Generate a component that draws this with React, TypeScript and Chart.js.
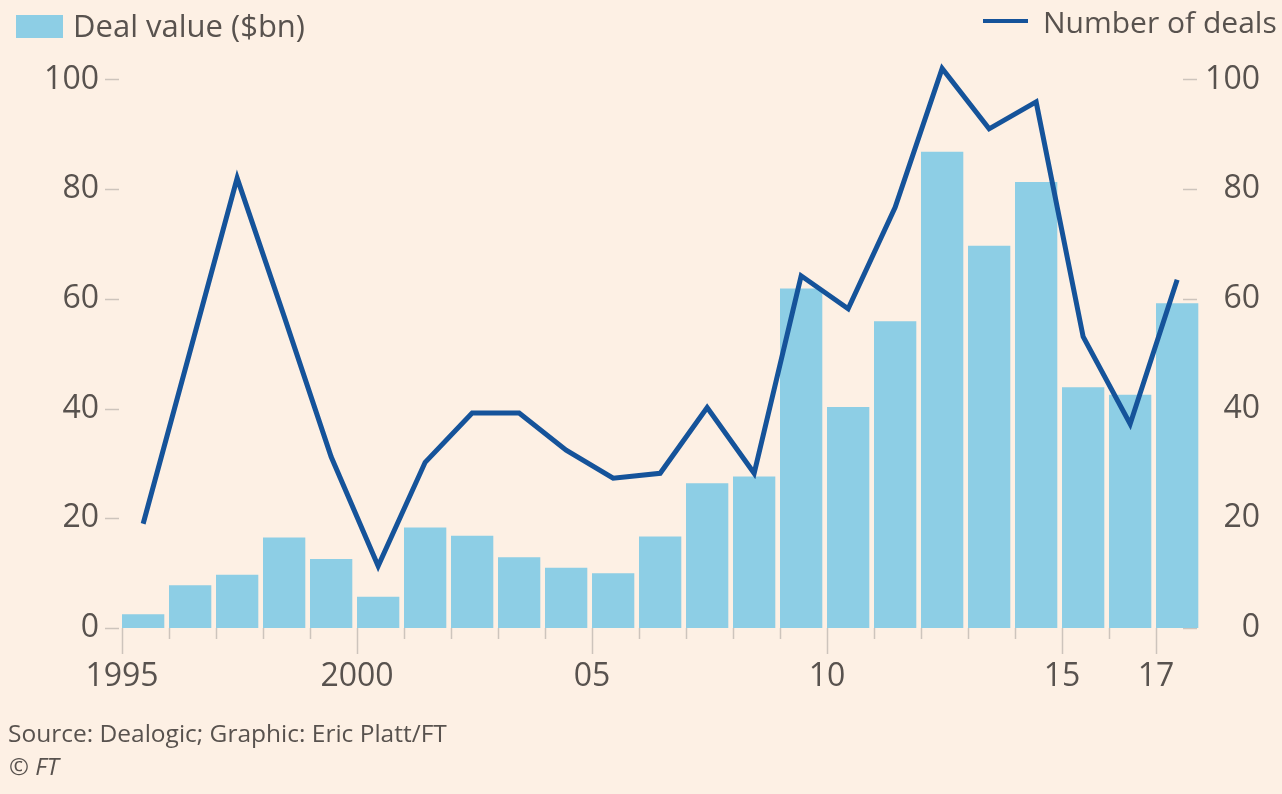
import React, { useEffect, useRef } from 'react';
import { Chart, registerables } from 'chart.js';

Chart.register(...registerables);

// ---- data ----
const years = [
  1995, 1996, 1997, 1998, 1999, 2000, 2001, 2002, 2003, 2004, 2005, 2006,
  2007, 2008, 2009, 2010, 2011, 2012, 2013, 2014, 2015, 2016, 2017,
];
const dealValue = [
  2.5, 7.8, 9.7, 16.5, 12.6, 5.7, 18.3, 16.8, 12.9, 11.0, 10.0, 16.7,
  26.4, 27.6, 61.9, 40.3, 55.9, 86.8, 69.7, 81.3, 43.9, 42.5, 59.2,
];
const numberOfDeals = [
  19, 50.5, 82, 56.8, 31.2, 11.3, 30.2, 39.2, 39.2, 32.4, 27.3, 28.2,
  40.2, 28.2, 64.2, 58.2, 76.7, 102, 91, 95.9, 53.1, 37.2, 63.5,
];
const xTickLabels: Record<number, string> = {
  1995: '1995', 2000: '2000', 2005: '05', 2010: '10', 2015: '15', 2017: '17',
};
const yTickValues = [0, 20, 40, 60, 80, 100];

// ---- style ----
const BG = '#fdf0e4';
const BAR = '#8dcee5';
const LINE = '#15539a';
const TEXT = '#58524e';
const TICK = '#cdc4bc';
const FONT = '"Open Sans", "Noto Sans", sans-serif';

const tickMarks = {
  id: 'tickMarks',
  beforeDatasetsDraw(chart: any) {
    const { ctx, scales } = chart;
    const x = scales.x, yl = scales.y, yr = scales.y1;
    const base = yl.getPixelForValue(0);
    ctx.save();
    ctx.strokeStyle = TICK;
    ctx.lineWidth = 1.5;
    ctx.beginPath();
    years.forEach((yr0) => {
      const px = Math.round(x.getPixelForValue(yr0)) + 0.5;
      const len = xTickLabels[yr0] ? 26 : 11;
      ctx.moveTo(px, base);
      ctx.lineTo(px, base + len);
    });
    yTickValues.forEach((v) => {
      const py = Math.round(yl.getPixelForValue(v)) + 0.5;
      ctx.moveTo(chart.chartArea.left - 17, py);
      ctx.lineTo(chart.chartArea.left - 3, py);
      const pr = Math.round(yr.getPixelForValue(v)) + 0.5;
      ctx.moveTo(chart.chartArea.right - 20, pr);
      ctx.lineTo(chart.chartArea.right - 6, pr);
    });
    ctx.stroke();
    ctx.restore();
  },
};

export default function App() {
  const ref = useRef<HTMLCanvasElement | null>(null);

  useEffect(() => {
    if (!ref.current) return;
    const barPoints = years.map((y, i) => ({ x: y + 0.45, y: dealValue[i] }));
    const linePoints = years.map((y, i) => ({ x: y + 0.45, y: numberOfDeals[i] }));
    const tickFont = { family: FONT, size: 32 };
    const setTicks = (s: any) => {
      s.ticks = yTickValues.map((v) => ({ value: v }));
    };
    const chart = new Chart(ref.current, {
      type: 'bar',
      data: {
        datasets: [
          {
            type: 'line',
            label: 'Number of deals',
            data: linePoints,
            yAxisID: 'y1',
            borderColor: LINE,
            borderWidth: 5,
            pointRadius: 0,
            tension: 0,
            borderJoinStyle: 'miter',
            borderCapStyle: 'butt',
            order: 0,
          } as any,
          {
            type: 'bar',
            label: 'Deal value ($bn)',
            data: barPoints,
            yAxisID: 'y',
            backgroundColor: BAR,
            borderWidth: 0,
            categoryPercentage: 1,
            barPercentage: 0.9,
            order: 1,
          } as any,
        ],
      },
      options: {
        animation: false,
        responsive: false,
        maintainAspectRatio: false,
        devicePixelRatio: 1,
        layout: { padding: { left: 0, right: 22, top: 52, bottom: 106 } },
        plugins: { legend: { display: false }, tooltip: { enabled: false } },
        scales: {
          x: {
            type: 'linear',
            min: 1995,
            max: 2018,
            offset: false,
            grid: { display: false, drawTicks: false },
            border: { display: false },
            ticks: {
              stepSize: 1,
              autoSkip: false,
              maxRotation: 0,
              padding: 30,
              color: TEXT,
              font: tickFont,
              callback: (v: any) => xTickLabels[Number(v)] ?? '',
            },
            afterFit: (s: any) => { s.height = 60; },
          },
          y: {
            type: 'linear',
            position: 'left',
            min: 0,
            max: 105,
            grid: { display: false, drawTicks: false },
            border: { display: false },
            ticks: { autoSkip: false, padding: 23, color: TEXT, font: tickFont },
            afterBuildTicks: setTicks,
            afterFit: (s: any) => { s.width = 122; },
          },
          y1: {
            type: 'linear',
            position: 'right',
            min: 0,
            max: 105,
            grid: { display: false, drawTicks: false },
            border: { display: false },
            ticks: { autoSkip: false, padding: 0, crossAlign: 'far', color: TEXT, font: tickFont },
            afterBuildTicks: setTicks,
            afterFit: (s: any) => { s.width = 57; },
          },
        },
      } as any,
      plugins: [tickMarks],
    });
    return () => chart.destroy();
  }, []);

  const abs = (o: React.CSSProperties): React.CSSProperties => ({ position: 'absolute', whiteSpace: 'nowrap', ...o });

  return (
    <div style={{ position: 'fixed', left: 0, top: 0, width: 1282, height: 794, background: BG, fontFamily: FONT, color: TEXT, overflow: 'hidden' }}>
      <canvas ref={ref} width={1282} height={794} style={{ position: 'absolute', left: 0, top: 0, width: 1282, height: 794 }} />
      <div style={abs({ left: 16, top: 15, width: 47, height: 23, background: BAR })} />
      <div style={abs({ left: 73, top: 10, fontSize: 31, lineHeight: '31px' })}>Deal value ($bn)</div>
      <div style={abs({ left: 983, top: 19, width: 45, height: 4, background: LINE })} />
      <div style={abs({ left: 1043, top: 6.5, fontSize: 30, lineHeight: '30px' })}>Number of deals</div>
      <div style={abs({ left: 8, top: 720.5, fontSize: 24.5, lineHeight: '24.5px' })}>Source: Dealogic; Graphic: Eric Platt/FT</div>
      <div style={abs({ left: 9, top: 753.5, fontSize: 24, lineHeight: '24px', fontStyle: 'italic' })}>© FT</div>
    </div>
  );
}
